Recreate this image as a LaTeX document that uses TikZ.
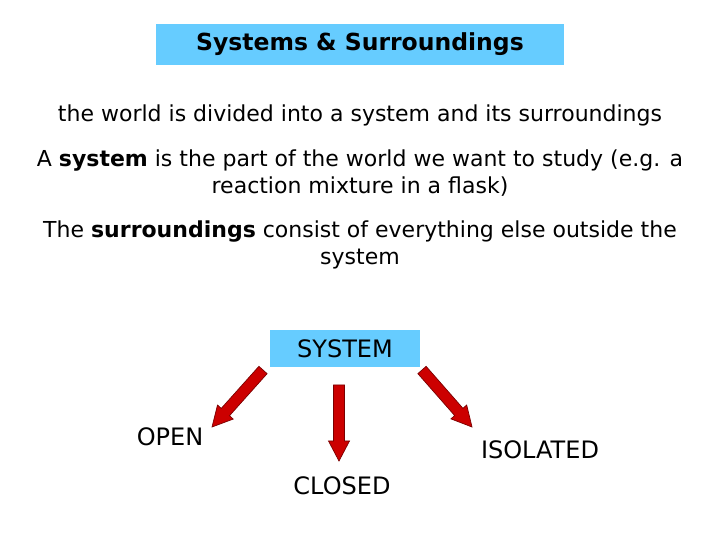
\documentclass[tikz,border=0pt]{standalone}
\usepackage{fontspec}
\setmainfont{DejaVu Sans}
\usetikzlibrary{calc}
\definecolor{skyfill}{HTML}{66CCFF}
\definecolor{arrowred}{HTML}{CC0000}
\definecolor{arrowline}{HTML}{7A0000}
\tikzset{
  body/.style={font=\fontsize{22}{26.5}\selectfont, align=center, inner sep=0pt},
  label/.style={font=\fontsize{24}{28}\selectfont, inner sep=0pt},
  fat/.style={draw=arrowline, fill=arrowred, line width=0.7pt, line join=miter},
}
\newcommand\fatarrow[2]{%
  \draw[fat] let \p1=(#1), \p2=(#2), \n1={atan2(\y2-\y1,\x2-\x1)},
      \n2={veclen(\x2-\x1,\y2-\y1)}, \n3={\n2-20pt} in
    ($(\p1)+(\n1+90:5.5pt)$) -- ($(\p1)+(\n1:\n3)+(\n1+90:5.5pt)$)
    -- ($(\p1)+(\n1:\n3)+(\n1+90:10.5pt)$) -- (\p2)
    -- ($(\p1)+(\n1:\n3)+(\n1-90:10.5pt)$) -- ($(\p1)+(\n1:\n3)+(\n1-90:5.5pt)$)
    -- ($(\p1)+(\n1-90:5.5pt)$) -- cycle;}
\begin{document}
\begin{tikzpicture}[x=1pt,y=1pt]
\useasboundingbox[fill=white] (0,0) rectangle (720,540);
% title
\node[fill=skyfill, minimum width=408pt, minimum height=41pt, inner sep=0pt,
      font=\fontsize{23.5}{27}\selectfont\bfseries] (title) at (360,495.5) {Systems \& Surroundings};
% body text
\node[body] (l1) at (360,425) {the world is divided into a system and its surroundings};
\node[body] (l2) at (360,367) {A \textbf{system} is the part of the world we want to study (e.g. a\\ reaction mixture in a flask)};
\node[body] (l3) at (360,295) {The \textbf{surroundings} consist of everything else outside the\\ system};
% system box
\node[fill=skyfill, minimum width=150pt, minimum height=37pt, inner sep=0pt,
      font=\fontsize{24}{28}\selectfont] (sys) at (345,191.5) {SYSTEM};
\node[label] (open) at (170,103) {OPEN};
\node[label] (closed) at (342,54) {CLOSED};
\node[label] (iso) at (540,90) {ISOLATED};
% arrows
\coordinate (aLt) at (263,170); \coordinate (aLh) at (212,113);
\coordinate (aMt) at (339,155); \coordinate (aMh) at (339,79);
\coordinate (aRt) at (422,170); \coordinate (aRh) at (472,113);
\fatarrow{aLt}{aLh}
\fatarrow{aMt}{aMh}
\fatarrow{aRt}{aRh}
\end{tikzpicture}
\end{document}
